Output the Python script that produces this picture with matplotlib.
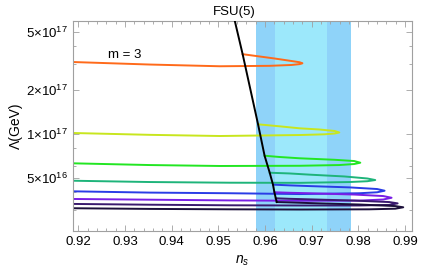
import matplotlib
matplotlib.use("Agg")
import matplotlib.pyplot as plt
from matplotlib.ticker import FixedLocator, NullFormatter

plt.rcParams['font.family'] = ['Liberation Sans', 'DejaVu Sans']
plt.rcParams['mathtext.fontset'] = 'custom'
plt.rcParams['mathtext.rm'] = 'Liberation Sans'
plt.rcParams['mathtext.it'] = 'Liberation Sans:italic'

# each loop: lower branch left -> tip, then upper branch back to the FSU(5) line
# Lambda values in units of 1e16 GeV
ns_m3 = [0.915, 0.9353, 0.9503, 0.9610, 0.9657, 0.9674, 0.9680, 0.9674, 0.9657, 0.9620, 0.9584, 0.9552]
lam_m3 = [31.4, 29.9, 29.1, 29.3, 29.7, 30.1, 30.5, 31.0, 31.6, 32.9, 34.1, 35.2]

ns_m4 = [0.915, 0.9353, 0.9503, 0.9674, 0.9727, 0.9749, 0.9759, 0.9749, 0.9716, 0.9674, 0.9631, 0.9585]
lam_m4 = [10.23, 9.87, 9.69, 9.84, 9.95, 10.08, 10.24, 10.49, 10.74, 10.94, 11.29, 11.65]

ns_m5 = [0.915, 0.9353, 0.9503, 0.9674, 0.9759, 0.9791, 0.9804, 0.9791, 0.9749, 0.9674, 0.9631, 0.9599]
lam_m5 = [6.34, 6.13, 6.04, 6.06, 6.13, 6.23, 6.36, 6.53, 6.66, 6.82, 6.96, 7.10]

ns_m6 = [0.915, 0.9353, 0.9524, 0.9674, 0.9781, 0.9819, 0.9836, 0.9819, 0.9770, 0.9695, 0.9652, 0.9610]
lam_m6 = [4.81, 4.69, 4.64, 4.63, 4.69, 4.75, 4.84, 4.96, 5.12, 5.27, 5.37, 5.43]

ns_m7 = [0.915, 0.9353, 0.9524, 0.9674, 0.9802, 0.9840, 0.9856, 0.9840, 0.9781, 0.9695, 0.9652, 0.9617]
lam_m7 = [4.07, 3.97, 3.93, 3.88, 3.93, 3.99, 4.09, 4.20, 4.31, 4.40, 4.45, 4.50]

ns_m8 = [0.915, 0.9353, 0.9524, 0.9674, 0.9802, 0.9853, 0.9871, 0.9853, 0.9791, 0.9695, 0.9652, 0.9620]
lam_m8 = [3.60, 3.55, 3.51, 3.49, 3.50, 3.56, 3.66, 3.76, 3.85, 3.93, 3.96, 3.99]

ns_m9 = [0.915, 0.9353, 0.9524, 0.9674, 0.9802, 0.9866, 0.9884, 0.9866, 0.9791, 0.9695, 0.9652, 0.9623]
lam_m9 = [3.33, 3.28, 3.25, 3.24, 3.24, 3.27, 3.35, 3.42, 3.50, 3.57, 3.60, 3.63]

ns_m10 = [0.915, 0.9353, 0.9524, 0.9674, 0.9823, 0.9879, 0.9896, 0.9879, 0.9802, 0.9716, 0.9652, 0.9625]
lam_m10 = [3.11, 3.07, 3.05, 3.04, 3.05, 3.08, 3.15, 3.21, 3.29, 3.35, 3.40, 3.42]

# FSU(5) line through the loop end points
ns_fsu = [0.9530, 0.9552, 0.9585, 0.9599, 0.9610, 0.9617, 0.9620, 0.9623, 0.9625]
lam_fsu = [70.0, 35.2, 11.65, 7.10, 5.43, 4.50, 3.99, 3.63, 3.42]

# Planck ns bands
ns_band_outer = (0.9580, 0.9785)
ns_band_inner = (0.9622, 0.9733)

colors = ['#ff6a1a', '#c8e61e', '#22e622', '#1eb47a', '#2a3ce6', '#7a1ee6', '#3a1a6e', '#1c0f3a']
curves = [(ns_m3, lam_m3), (ns_m4, lam_m4), (ns_m5, lam_m5), (ns_m6, lam_m6),
          (ns_m7, lam_m7), (ns_m8, lam_m8), (ns_m9, lam_m9), (ns_m10, lam_m10)]

fig = plt.figure(figsize=(4.36, 2.72), dpi=100)
ax = fig.add_axes([0.1667, 0.1489, 0.7775, 0.7739])

ax.axvspan(*ns_band_outer, color='#8fd3f9', lw=0, zorder=0)
ax.axvspan(*ns_band_inner, color='#9ce8fb', lw=0, zorder=0)

for (ns, lam), c in zip(curves, colors):
    ax.plot(ns, [v * 1e16 for v in lam], color=c, lw=1.4, zorder=2)

ax.plot(ns_fsu, [v * 1e16 for v in lam_fsu], color='black', lw=1.4, zorder=3)

ax.set_yscale('log')
ax.set_xlim(0.9188, 0.9914)
ax.set_ylim(2.15e16, 5.94e17)

ax.text(0.930, 3.48e17, 'm = 3', fontsize=9.5, ha='center', va='center')
ax.text(0.9535, 6.25e17, 'FSU(5)', fontsize=9.5, ha='center', va='bottom', clip_on=False)

xt = [0.92, 0.93, 0.94, 0.95, 0.96, 0.97, 0.98, 0.99]
ax.set_xticks(xt)
ax.set_xticklabels([f'{v:.2f}' for v in xt])
ax.xaxis.set_minor_locator(FixedLocator([0.918 + 0.002 * i for i in range(38)]))

yt = [5e16, 1e17, 2e17, 5e17]
ax.yaxis.set_major_locator(FixedLocator(yt))
ax.set_yticklabels(['5×10$^{16}$', '1×10$^{17}$', '2×10$^{17}$', '5×10$^{17}$'])
ax.yaxis.set_minor_locator(FixedLocator([3e16, 4e16, 6e16, 8e16, 3e17, 4e17]))
ax.yaxis.set_minor_formatter(NullFormatter())

ax.tick_params(which='both', direction='in', top=True, right=True, color='#a0a0a0',
               labelsize=9.5, width=0.6)
ax.tick_params(which='major', length=4)
ax.tick_params(which='minor', length=2)
for s in ax.spines.values():
    s.set_color('#a0a0a0')
    s.set_linewidth(0.8)

ax.set_xlabel('$n_s$', fontsize=10, labelpad=4)
ax.set_ylabel('Λ(GeV)', fontsize=10, labelpad=2)

fig.savefig('out.png', dpi=100)
